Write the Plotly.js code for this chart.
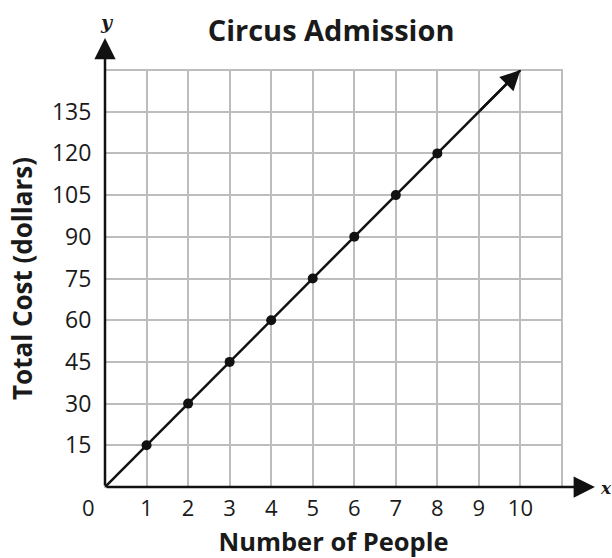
<!DOCTYPE html>
<html>
<head>
<meta charset="utf-8">
<script src="https://cdn.plot.ly/plotly-3.0.1.min.js"></script>
<style>html,body{margin:0;padding:0;background:#fff;}#chart{width:612px;height:558px;}</style>
</head>
<body>
<div id="chart"></div>
<script>
// Data
var people = [1, 2, 3, 4, 5, 6, 7, 8];
var cost = [15, 30, 45, 60, 75, 90, 105, 120];
var lineX = [0, 10];
var lineY = [0, 150];
var xTicks = [1, 2, 3, 4, 5, 6, 7, 8, 9, 10];
var yTicks = [15, 30, 45, 60, 75, 90, 105, 120, 135];

var FONT = 'Open Sans, sans-serif';

var traces = [
  {x: lineX, y: lineY, mode: 'lines', line: {color: '#111', width: 2.5}, hoverinfo: 'skip', showlegend: false},
  {x: people, y: cost, mode: 'markers', marker: {color: '#111', size: 10}, showlegend: false}
];

var layout = {
  width: 612, height: 558,
  margin: {l: 105, r: 50, t: 70, b: 71},
  paper_bgcolor: '#fff', plot_bgcolor: '#fff',
  showlegend: false,
  title: {text: '<b>Circus Admission</b>', x: 0.541, xanchor: 'center', y: 0.944, yanchor: 'middle',
          font: {family: FONT, size: 29, color: '#1a1a1a'}},
  xaxis: {range: [0, 11], tickvals: xTicks, showgrid: true, gridcolor: '#bdbdbd', gridwidth: 2,
          zeroline: false, showline: false, ticks: 'outside', ticklen: 2, tickcolor: 'rgba(0,0,0,0)',
          tickfont: {family: FONT, size: 22, color: '#1a1a1a'}, fixedrange: true,
          title: {text: '<b>Number of People</b>', standoff: 19, font: {family: FONT, size: 25.5, color: '#1a1a1a'}}},
  yaxis: {range: [0, 150], tickvals: yTicks, showgrid: true, gridcolor: '#bdbdbd', gridwidth: 2,
          zeroline: false, showline: false, ticks: 'outside', ticklen: 8, tickcolor: 'rgba(0,0,0,0)',
          tickfont: {family: FONT, size: 23, color: '#1a1a1a'}, fixedrange: true,
          title: {text: '<b>Total Cost (dollars)</b>', standoff: 11, font: {family: FONT, size: 26, color: '#1a1a1a'}}},
  shapes: [
    {type: 'rect', xref: 'paper', yref: 'paper', x0: 0, x1: 1, y0: 0, y1: 1,
     line: {color: '#bdbdbd', width: 2}, layer: 'below'}
  ],
  annotations: [
    // y axis with arrow
    {xref: 'paper', yref: 'paper', x: 0, y: 1.077, ax: 0, ay: 449, axref: 'pixel', ayref: 'pixel',
     showarrow: true, arrowhead: 2, arrowsize: 1.7, arrowwidth: 2.5, arrowcolor: '#111', text: '', standoff: 0},
    // x axis with arrow
    {xref: 'paper', yref: 'paper', x: 1.072, y: 0, ax: -490, ay: 0, axref: 'pixel', ayref: 'pixel',
     showarrow: true, arrowhead: 2, arrowsize: 1.7, arrowwidth: 2.5, arrowcolor: '#111', text: '', standoff: 0},
    // arrow at end of data line
    {xref: 'x', yref: 'y', x: lineX[1], y: lineY[1], ax: 9, ay: 135, axref: 'x', ayref: 'y',
     showarrow: true, arrowhead: 2, arrowsize: 1.6, arrowwidth: 2.5, arrowcolor: '#111', text: '', standoff: 0},
    // origin label
    {xref: 'x', yref: 'y', x: 0, y: 0, xshift: -17, yshift: -20, text: '0', showarrow: false,
     font: {family: FONT, size: 22, color: '#1a1a1a'}},
    // axis letters
    {xref: 'paper', yref: 'paper', x: 0, y: 1.077, xshift: -7, yshift: 29, text: '<b><i>y</i></b>', showarrow: false,
     font: {family: 'DejaVu Serif, serif', size: 19, color: '#1a1a1a'}},
    {xref: 'paper', yref: 'paper', x: 1.072, y: 0, xshift: 3, yshift: -1, xanchor: 'left', yanchor: 'middle',
     text: '<b><i>x</i></b>', showarrow: false,
     font: {family: 'DejaVu Serif, serif', size: 17, color: '#1a1a1a'}}
  ]
};

Plotly.newPlot('chart', traces, layout, {displayModeBar: false, staticPlot: true});
</script>
</body>
</html>
